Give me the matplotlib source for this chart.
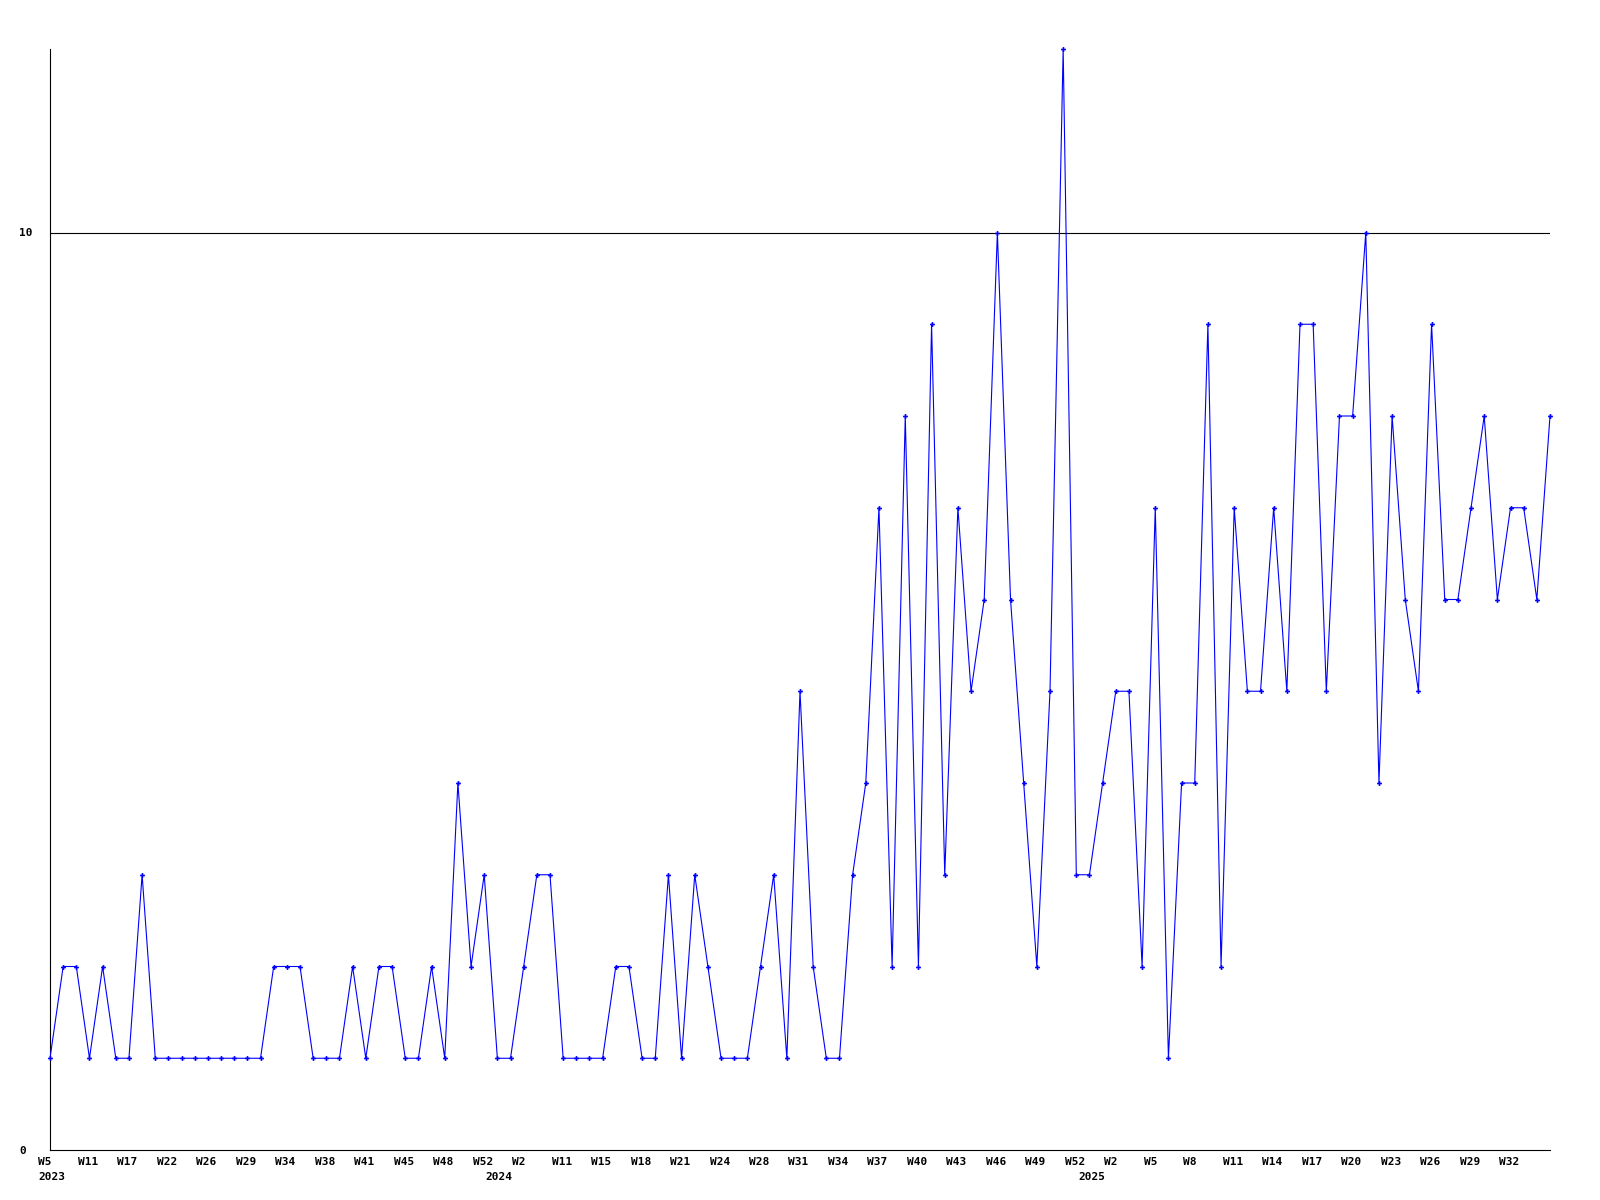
import matplotlib
matplotlib.use("Agg")
import matplotlib.pyplot as plt
from matplotlib.transforms import ScaledTranslation

# weekly counts, one value per sampled week
values = [1, 2, 2, 1, 2, 1, 1, 3, 1, 1,
          1, 1, 1, 1, 1, 1, 1, 2, 2, 2,
          1, 1, 1, 2, 1, 2, 2, 1, 1, 2,
          1, 4, 2, 3, 1, 1, 2, 3, 3, 1,
          1, 1, 1, 2, 2, 1, 1, 3, 1, 3,
          2, 1, 1, 1, 2, 3, 1, 5, 2, 1,
          1, 3, 4, 7, 2, 8, 2, 9, 3, 7,
          5, 6, 10, 6, 4, 2, 5, 12, 3, 3,
          4, 5, 5, 2, 7, 1, 4, 4, 9, 2,
          7, 5, 5, 7, 5, 9, 9, 5, 8, 8,
          10, 4, 8, 6, 5, 9, 6, 6, 7, 8,
          6, 7, 7, 6, 8]

# every third point carries a week label
week_labels = ["W5", "W11", "W17", "W22", "W26", "W29", "W34", "W38", "W41",
               "W45", "W48", "W52", "W2", "W11", "W15", "W18", "W21", "W24",
               "W28", "W31", "W34", "W37", "W40", "W43", "W46", "W49", "W52",
               "W2", "W5", "W8", "W11", "W14", "W17", "W20", "W23", "W26",
               "W29", "W32"]
year_pos = [0, 34, 79]
year_labels = ["2023", "2024", "2025"]

x = list(range(len(values)))

fig = plt.figure(figsize=(16, 12), dpi=100)
ax = fig.add_axes([50 / 1600, 50 / 1200, 1500 / 1600, 1101 / 1200])

ax.plot(x, values, color="#0000ff", linewidth=0.8, marker="P",
        markersize=3.5, markeredgewidth=0, clip_on=False, zorder=3)

ax.set_xlim(0, len(values) - 1)
ax.set_ylim(0, 12)

ax.axhline(10, color="black", linewidth=0.8, zorder=1)

for s in ["top", "right"]:
    ax.spines[s].set_visible(False)
for s in ["left", "bottom"]:
    ax.spines[s].set_color("black")
    ax.spines[s].set_linewidth(0.8)

ax.set_yticks([0, 10])
ax.set_yticklabels(["0", "10"], fontfamily="DejaVu Sans Mono",
                   fontweight="bold", fontsize=8)
ax.tick_params(axis="y", length=0, pad=22)
for lab in ax.get_yticklabels():
    lab.set_horizontalalignment("left")

ax.set_xticks([])
trans_w = ax.get_xaxis_transform() + ScaledTranslation(-11.5 / 100, -7 / 100, fig.dpi_scale_trans)
for i, lab in enumerate(week_labels):
    ax.text(i * 3, 0, lab, transform=trans_w, ha="left", va="top",
            fontfamily="DejaVu Sans Mono", fontweight="bold", fontsize=8)
trans_y = ax.get_xaxis_transform() + ScaledTranslation(-11.5 / 100, -22 / 100, fig.dpi_scale_trans)
for p, lab in zip(year_pos, year_labels):
    ax.text(p, 0, lab, transform=trans_y, ha="left", va="top",
            fontfamily="DejaVu Sans Mono", fontweight="bold", fontsize=8)

fig.savefig("out.png", dpi=100, facecolor="white")
